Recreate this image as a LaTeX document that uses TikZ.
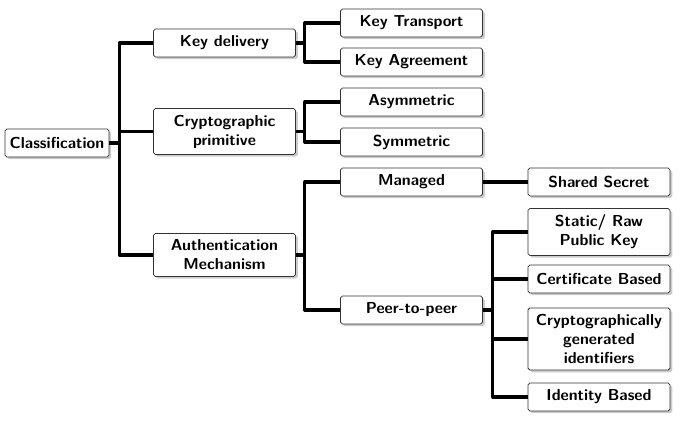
\documentclass[tikz,border=0pt]{standalone}
\usetikzlibrary{shadows}

\tikzset{
    box/.style = {draw=black!80, fill=white, rounded corners=1.2pt, line width=0.5pt,
        drop shadow={shadow xshift=1.4pt, shadow yshift=-1.4pt, fill=black!40},
        align=center, minimum height=17.6pt, inner ysep=4pt, inner xsep=3pt},
    wide/.style = {box, minimum width=89.5pt},
    link/.style = {line width=1.9pt, line join=round}
}

\begin{document}
\begin{tikzpicture}[
    x = 0.63pt, y = -0.63pt,
    every node/.style = {font=\sffamily\bfseries}
    ]

    \useasboundingbox (0,0) rectangle (681,422);

    % root
    \node[box] (cls) at (57,143) {Classification};

    % first level
    \node[wide] (kd) at (224.5,43) {Key delivery};
    \node[wide] (cp) at (224.5,131.5) {Cryptographic\\primitive};
    \node[wide] (am) at (224.5,255) {Authentication\\Mechanism};

    % second level
    \node[wide] (kt)   at (411.5,23)  {Key Transport};
    \node[wide] (ka)   at (411.5,62)  {Key Agreement};
    \node[wide] (asym) at (411.5,102) {Asymmetric};
    \node[wide] (sym)  at (411.5,142) {Symmetric};
    \node[wide] (mng)  at (411.5,182) {Managed};
    \node[wide] (p2p)  at (411.5,310) {Peer-to-peer};

    % third level
    \node[wide] (ss)   at (599,182) {Shared Secret};
    \node[wide] (raw)  at (599,232) {Static/ Raw\\Public Key};
    \node[wide] (cert) at (599,279) {Certificate Based};
    \node[wide] (cga)  at (599,339) {Cryptographically\\generated\\identifiers};
    \node[wide] (ibe)  at (599,397) {Identity Based};

    % connectors
    \draw[link] (cls.east) -- ++(10,0) coordinate (c0);
    \foreach \n in {kd,cp,am}
        \draw[link] (c0) |- (\n.west);

    \draw[link] (kd.east) -- ++(9,0) coordinate (c1);
    \foreach \n in {kt,ka}
        \draw[link] (c1) |- (\n.west);

    \draw[link] (cp.east) -- ++(9,0) coordinate (c2);
    \foreach \n in {asym,sym}
        \draw[link] (c2) |- (\n.west);

    \draw[link] (am.east) -- ++(9,0) coordinate (c3);
    \foreach \n in {mng,p2p}
        \draw[link] (c3) |- (\n.west);

    \draw[link] (mng.east) -- (ss.west);

    \draw[link] (p2p.east) -- ++(10,0) coordinate (c4);
    \foreach \n in {raw,cert,cga,ibe}
        \draw[link] (c4) |- (\n.west);

\end{tikzpicture}
\end{document}
